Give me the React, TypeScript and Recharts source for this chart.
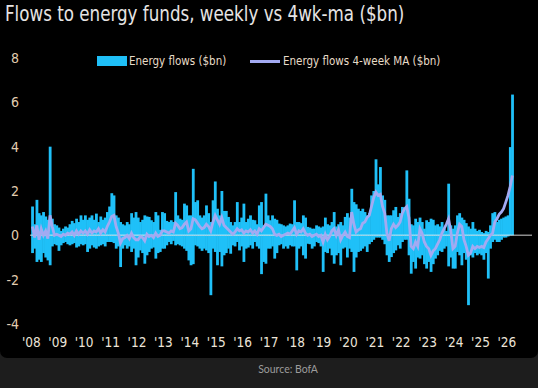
import React from 'react';
import { ComposedChart, Bar, Line, XAxis, YAxis, ReferenceLine } from 'recharts';

// monthly extremes of the weekly flows ($bn), Jan 2008 .. Mar 2026
const weeklyHigh = [
  // 2008
  1.3, 0.5, 1.6, 1.0, 0.9, 1.05, 0.85, 0.7, 4.0, 0.75, 0.5, 0.45,
  // 2009
  0.35, 0.2, 0.3, 0.4, 0.35, 0.5, 0.65, 0.55, 0.75, 0.6, 0.9, 0.7,
  // 2010
  0.9, 0.7, 0.8, 0.9, 0.7, 0.98, 0.6, 0.85, 0.7, 0.8, 1.05, 1.3,
  // 2011
  1.9, 1.8, 0.9, 0.8, 0.6, 0.5, 0.45, 0.6, 0.5, 1.0, 0.8, 1.05,
  // 2012
  0.8, 0.6, 0.7, 0.9, 0.85, 0.83, 0.68, 0.6, 1.05, 0.9, 0.25, 1.05,
  // 2013
  1.0, 0.65, 0.6, 0.68, 0.6, 1.95, 0.9, 0.75, 0.7, 1.43, 1.35, 0.9,
  // 2014
  0.9, 3.0, 1.5, 1.58, 0.9, 0.8, 0.9, 1.35, 1.0, 0.6, 1.58, 2.43,
  // 2015
  1.2, 0.9, 2.0, 1.1, 1.1, 0.83, 0.6, 0.45, 0.6, 1.5, 0.6, 0.8,
  // 2016
  1.43, 0.6, 0.75, 0.9, 0.7, 0.68, 0.5, 1.35, 1.5, 0.45, 1.88, 0.9,
  // 2017
  0.68, 0.9, 0.75, 0.7, 0.53, 0.5, 0.45, 0.4, 0.45, 0.53, 0.5, 1.58,
  // 2018
  0.6, 0.6, 0.55, 0.9, 0.8, 0.38, 0.35, 0.3, 0.3, 0.45, 0.4, 0.35,
  // 2019
  0.4, 0.8, 0.5, 0.45, 0.6, 1.05, 0.4, 0.5, 0.6, 0.45, 0.83, 1.0,
  // 2020
  0.8, 2.1, 1.5, 1.4, 1.2, 1.1, 1.2, 1.05, 0.9, 1.0, 1.8, 2.0,
  // 2021
  3.43, 2.3, 3.08, 1.8, 1.6, 0.9, 0.9, 0.9, 1.13, 1.28, 0.83, 1.0,
  // 2022
  1.28, 1.2, 2.93, 1.65, 0.5, 0.45, 0.75, 0.6, 0.8, 0.6, 0.3, 0.68,
  // 2023
  0.6, 0.75, 0.7, 0.45, 0.5, 0.4, 0.6, 0.3, 0.2, 2.33, 0.45, 0.3,
  // 2024
  0.45, 0.9, 1.0, 0.8, 0.7, 0.55, 0.4, 0.3, 0.6, 0.3, 0.2, 0.25,
  // 2025
  0.15, 0.1, 0.2, 0.15, 0.45, 1.0, 1.05, 0.6, 0.7, 0.75, 0.8, 0.85,
  // 2026
  0.9, 3.98, 6.35,
];

const weeklyLow = [
  // 2008
  -0.8, -0.6, -1.2, -1.1, -1.2, -0.8, -1.0, -1.13, -1.35, -0.5, -0.4, -0.45,
  // 2009
  -0.7, -0.45, -0.35, -0.3, -0.4, -0.45, -0.4, -0.35, -0.55, -0.5, -0.4, -0.45,
  // 2010
  -0.4, -0.75, -0.6, -0.45, -0.55, -0.6, -0.5, -0.45, -0.4, -0.5, -0.3, -0.3,
  // 2011
  -0.3, -0.35, -0.6, -0.5, -1.43, -0.6, -0.45, -0.6, -0.5, -0.75, -0.6, -1.35,
  // 2012
  -1.0, -0.68, -0.8, -1.28, -0.9, -0.75, -0.6, -0.55, -1.05, -0.8, -0.75, -0.6,
  // 2013
  -0.6, -0.45, -0.3, -0.4, -0.25, -0.45, -0.4, -0.45, -0.5, -0.6, -0.7, -1.13,
  // 2014
  -1.35, -1.3, -0.45, -0.5, -0.6, -0.7, -0.6, -0.68, -0.8, -2.7, -0.6, -0.75,
  // 2015
  -1.35, -0.75, -1.4, -0.9, -0.8, -0.6, -0.83, -0.45, -0.5, -0.3, -0.68, -0.5,
  // 2016
  -1.2, -0.6, -0.55, -0.45, -0.6, -0.3, -0.5, -0.6, -1.75, -1.2, -1.28, -0.6,
  // 2017
  -0.6, -0.5, -1.05, -0.8, -0.45, -0.4, -0.6, -0.5, -0.6, -0.45, -0.5, -0.5,
  // 2018
  -1.58, -0.6, -0.5, -0.9, -1.05, -0.38, -0.4, -0.6, -0.5, -0.3, -0.35, -0.5,
  // 2019
  -1.65, -0.75, -0.8, -0.6, -0.9, -1.28, -0.9, -0.8, -1.35, -0.6, -0.55, -1.0,
  // 2020
  -0.6, -0.75, -1.65, -1.0, -0.75, -0.7, -0.6, -0.5, -0.75, -0.4, -0.3, -0.2,
  // 2021
  -0.1, -0.1, -0.1, -0.2, -0.4, -0.9, -1.2, -0.98, -0.8, -0.68, -0.45, -0.6,
  // 2022
  -0.3, -0.2, -0.2, -0.9, -1.73, -1.2, -1.5, -1.0, -1.05, -0.9, -1.3, -1.5,
  // 2023
  -1.2, -1.65, -1.3, -1.05, -0.9, -0.7, -0.75, -0.6, -0.5, -1.4, -1.0, -1.5,
  // 2024
  -1.5, -0.75, -0.9, -1.35, -0.8, -1.1, -3.15, -0.9, -1.0, -0.8, -0.9, -0.83,
  // 2025
  -0.9, -1.1, -0.8, -1.95, -0.6, -0.3, -0.2, -0.3, -0.3, -0.2, -0.1, -0.1,
  // 2026
  -0.05, 0, 0,
];

// 4-week moving average, read at the same months
const movingAvg = [
  // 2008
  0.4, -0.1, 0.45, -0.2, 0.3, 0.0, 0.2, -0.15, 0.9, 0.4, 0.0, 0.05,
  // 2009
  0.0, -0.05, 0.05, 0.0, 0.1, 0.05, 0.15, 0.0, 0.2, 0.05, 0.2, 0.1,
  // 2010
  0.2, 0.05, 0.25, 0.1, 0.2, 0.15, 0.3, 0.1, 0.25, 0.15, 0.4, 0.6,
  // 2011
  0.85, 0.9, 0.4, 0.1, -0.35, -0.15, -0.1, 0.0, -0.15, 0.1, -0.1, -0.2,
  // 2012
  -0.2, -0.05, -0.1, -0.25, 0.05, -0.05, 0.0, -0.1, 0.1, -0.05, 0.0, 0.2,
  // 2013
  0.2, 0.15, 0.1, 0.2, 0.15, 0.55, 0.45, 0.3, 0.35, 0.5, 0.6, 0.2,
  // 2014
  0.3, 0.75, 0.7, 0.55, 0.4, 0.3, 0.35, 0.5, 0.4, 0.2, 0.6, 0.9,
  // 2015
  0.7, 0.5, 0.8, 0.45, 0.35, 0.25, 0.15, 0.05, 0.15, 0.3, 0.2, 0.25,
  // 2016
  0.1, 0.2, 0.15, 0.25, 0.1, 0.2, 0.05, 0.3, 0.2, 0.35, 0.5, 0.45,
  // 2017
  0.4, 0.3, 0.05, 0.0, 0.05, -0.05, 0.0, 0.05, 0.1, 0.05, 0.2, 0.35,
  // 2018
  0.05, 0.2, 0.15, 0.3, 0.1, 0.0, 0.05, -0.05, 0.0, 0.05, -0.05, 0.0,
  // 2019
  -0.3, 0.05, -0.2, -0.05, 0.2, 0.3, 0.0, 0.25, -0.2, 0.0, 0.15, -0.05,
  // 2020
  -0.1, 1.05, 0.5, 0.15, 0.25, 0.3, 0.55, 0.6, 0.8, 0.9, 1.3, 1.7,
  // 2021
  1.95, 1.8, 1.85, 1.3, 1.0, 0.1, -0.25, 0.3, 0.5, 0.35, 0.45, 0.6,
  // 2022
  1.0, 1.2, 1.3, 0.8, -0.5, -0.6, -0.3, -0.5, 0.3, 0.1, -0.3, -0.5,
  // 2023
  -0.6, -0.9, -0.7, -0.6, -0.4, -0.2, 0.1, 0.3, 0.5, 0.75, 0.2, -0.6,
  // 2024
  -0.5, 0.1, 0.5, 0.4, -0.2, -0.5, -0.9, -0.8, -0.5, -0.6, -0.5, -0.55,
  // 2025
  -0.5, -0.55, -0.3, -0.15, 0.0, 0.1, 0.6, 0.75, 0.95, 1.05, 1.2, 1.5,
  // 2026
  1.8, 2.2, 2.7,
];

const firstYear = 2008;
const yearTicks = [2008, 2009, 2010, 2011, 2012, 2013, 2014, 2015, 2016, 2017, 2018, 2019, 2020, 2021, 2022, 2023, 2024, 2025, 2026];
const valueTicks = [-4, -2, 0, 2, 4, 6, 8];

const BAR = '#1fc0f8';
const MA = '#a3aaf2';
const NARROW = '"DejaVu Sans Condensed", "Liberation Sans Narrow", sans-serif';

const data = weeklyHigh.map((hi, i) => ({
  t: firstYear + (i + 0.5) / 12,
  hi,
  lo: weeklyLow[i],
  ma: movingAvg[i],
}));

const squeeze = (k: number): React.CSSProperties => ({
  transform: `scaleX(${k})`,
  transformOrigin: 'left center',
  whiteSpace: 'nowrap',
});

// recharts shrinks bars to 90% of the month slot; widen them slightly so the weeks read as a solid band
const FlowBar = (props: any) => {
  const { x, y, width, height, fill } = props;
  if (x == null || y == null || !height) return null;
  const top = Math.min(y, y + height);
  return <rect x={x - 0.4} y={top} width={width + 0.8} height={Math.abs(height)} fill={fill} />;
};

const App: React.FC = () => {
  return (
    <div style={{ position: 'fixed', left: 0, top: 0, width: 538, height: 388, background: '#1d1d1d', overflow: 'hidden' }}>
      <div style={{ position: 'absolute', left: 0, top: 0, width: 538, height: 358, background: '#000', borderRadius: '0 0 7px 7px' }}>
        <div style={{ position: 'absolute', left: 5, top: 2, fontFamily: NARROW, fontSize: 21, color: '#e6e4e4', ...squeeze(0.885) }}>
          Flows to energy funds, weekly vs 4wk-ma ($bn)
        </div>

        {/* legend */}
        <div style={{ position: 'absolute', left: 97, top: 56, width: 30, height: 10, background: BAR }} />
        <div style={{ position: 'absolute', left: 129, top: 53, fontFamily: NARROW, fontSize: 13, color: '#e8dcc8', ...squeeze(0.885) }}>
          Energy flows ($bn)
        </div>
        <div style={{ position: 'absolute', left: 250, top: 60, width: 30, height: 2.5, background: MA }} />
        <div style={{ position: 'absolute', left: 283, top: 53, fontFamily: NARROW, fontSize: 13, color: '#e8dcc8', ...squeeze(0.885) }}>
          Energy flows 4-week MA ($bn)
        </div>

        <ComposedChart
          width={538}
          height={358}
          data={data}
          stackOffset="sign"
          margin={{ top: 58, right: 6, left: 0, bottom: 14 }}
        >
          <XAxis
            dataKey="t"
            type="number"
            domain={[2007.95, 2026.95]}
            ticks={yearTicks}
            tickFormatter={(y: number) => `'${String(y).slice(2)}`}
            axisLine={false}
            tickLine={false}
            tickMargin={7}
            height={20}
            interval={0}
            tick={{ fill: '#ece4d8', fontSize: 13.5, fontFamily: NARROW }}
          />
          <YAxis
            domain={[-4, 8]}
            ticks={valueTicks}
            width={30}
            axisLine={false}
            tickLine={false}
            tickMargin={5}
            interval={0}
            tick={{ fill: '#e2cdb0', fontSize: 14, fontFamily: NARROW }}
          />
          <Bar dataKey="hi" stackId="f" fill={BAR} shape={FlowBar} isAnimationActive={false} />
          <Bar dataKey="lo" stackId="f" fill={BAR} shape={FlowBar} isAnimationActive={false} />
          <ReferenceLine y={0} stroke="#ffffff" strokeOpacity={0.55} strokeWidth={1.5} />
          <Line type="linear" dataKey="ma" stroke={MA} strokeWidth={2.8} dot={false} isAnimationActive={false} />
        </ComposedChart>
      </div>
      <div style={{ position: 'absolute', left: 0, top: 363, width: 538, textAlign: 'center', paddingLeft: 38, boxSizing: 'border-box', fontFamily: 'Lato, "Open Sans", sans-serif', fontSize: 10.5, color: '#9c9c9c' }}>
        Source: BofA
      </div>
    </div>
  );
};

export default App;
